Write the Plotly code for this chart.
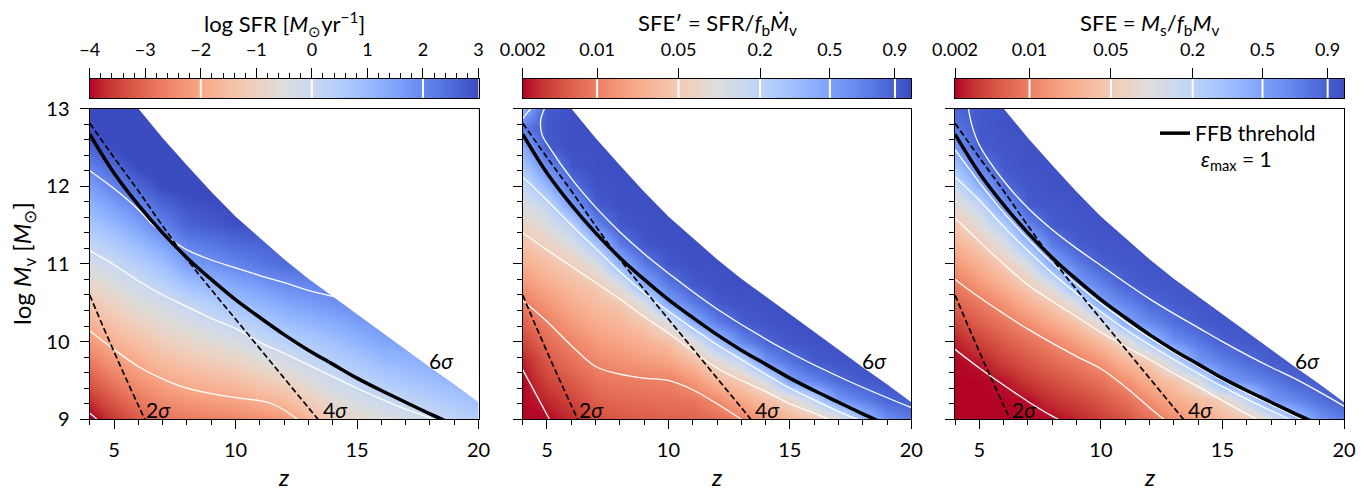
import numpy as np
import plotly.graph_objects as go

# page offset of the plot div (browser default body margin)
OFF = 8
W, H = 1372 - OFF, 493 - OFF
FONT = "Lato"

# ---------------- data ----------------
# panel 1: log SFR, one column per z node, rows = logM from 9 to 13 (step 0.5)
z_nodes_sfr = [4, 5, 6, 7, 8, 10, 12, 14, 16, 18, 20]
logm_nodes_sfr = [9.0, 9.5, 10.0, 10.5, 11.0, 11.5, 12.0, 12.5, 13.0]
log_sfr_cols = [
    [-4.15, -3.2, -2.27, -1.3, -0.33, 0.65, 1.6, 2.6, 3.5],
    [-3.6, -2.75, -1.8, -0.9, 0.02, 1.06, 2.1, 3.0, 3.8],
    [-3.2, -2.35, -1.45, -0.5, 0.45, 1.55, 2.6, 3.4, 3.9],
    [-2.9, -2.04, -1.1, -0.2, 0.9, 2.1, 3.0, 3.5, 3.8],
    [-2.75, -1.8, -0.85, 0.14, 1.6, 2.6, 3.1, 3.4, 3.6],
    [-2.6, -1.5, -0.38, 0.85, 2.1, 2.9, 3.2, 3.4, 3.5],
    [-2.3, -0.95, 0.33, 1.45, 2.5, 2.9, 3.1, 3.3, 3.4],
    [-1.1, -0.1, 0.85, 1.85, 2.5, 2.8, 3.0, 3.2, 3.3],
    [-0.55, 0.5, 1.45, 2.2, 2.6, 2.9, 3.0, 3.2, 3.3],
    [-0.05, 0.9, 1.7, 2.3, 2.7, 2.9, 3.0, 3.2, 3.3],
    [0.45, 1.3, 2.0, 2.5, 2.8, 3.0, 3.1, 3.2, 3.3],
]

# panels 2 and 3: SFE values, one column per z node, rows = logM 9..13 (step 0.25)
z_nodes_sfe = [4, 5, 6, 7, 8, 9, 10, 11, 12, 13, 14, 15, 16, 17, 18, 19, 20]
logm_nodes_sfe = [9.0, 9.25, 9.5, 9.75, 10.0, 10.25, 10.5, 10.75, 11.0,
                  11.25, 11.5, 11.75, 12.0, 12.25, 12.5, 12.75, 13.0]
sfe_inst_cols = [
    [0.00063, 0.00098, 0.00155, 0.0024, 0.0038, 0.006, 0.0095, 0.015, 0.024, 0.038, 0.06, 0.098, 0.158, 0.26, 0.41, 0.7, 0.4],
    [0.0018, 0.0026, 0.0036, 0.005, 0.0071, 0.0098, 0.015, 0.023, 0.036, 0.058, 0.1, 0.17, 0.35, 0.62, 0.91, 0.94, 0.91],
    [0.0027, 0.0038, 0.0054, 0.0076, 0.0108, 0.016, 0.024, 0.035, 0.054, 0.105, 0.2, 0.52, 0.77, 0.94, 0.97, 0.98, 0.97],
    [0.0042, 0.0058, 0.008, 0.011, 0.016, 0.023, 0.034, 0.049, 0.107, 0.27, 0.62, 0.91, 0.96, 0.98, 0.98, 0.98, 0.98],
    [0.0051, 0.0068, 0.0091, 0.0133, 0.02, 0.03, 0.046, 0.11, 0.39, 0.7, 0.93, 0.97, 0.98, 0.98, 0.98, 0.98, 0.98],
    [0.0054, 0.0072, 0.0097, 0.0157, 0.026, 0.044, 0.11, 0.47, 0.73, 0.94, 0.97, 0.98, 0.98, 0.98, 0.98, 0.98, 0.98],
    [0.006, 0.0077, 0.01, 0.019, 0.037, 0.1, 0.5, 0.74, 0.94, 0.97, 0.98, 0.98, 0.98, 0.98, 0.98, 0.98, 0.98],
    [0.0059, 0.0083, 0.0147, 0.033, 0.089, 0.42, 0.72, 0.93, 0.97, 0.98, 0.98, 0.98, 0.98, 0.98, 0.98, 0.98, 0.98],
    [0.0072, 0.012, 0.029, 0.076, 0.3, 0.69, 0.93, 0.97, 0.98, 0.98, 0.98, 0.98, 0.98, 0.98, 0.98, 0.98, 0.98],
    [0.01, 0.022, 0.05, 0.18, 0.64, 0.91, 0.96, 0.98, 0.98, 0.98, 0.98, 0.98, 0.98, 0.98, 0.98, 0.98, 0.98],
    [0.016, 0.035, 0.12, 0.57, 0.86, 0.95, 0.97, 0.98, 0.98, 0.98, 0.98, 0.98, 0.98, 0.98, 0.98, 0.98, 0.98],
    [0.026, 0.07, 0.51, 0.76, 0.94, 0.97, 0.98, 0.98, 0.98, 0.98, 0.98, 0.98, 0.98, 0.98, 0.98, 0.98, 0.98],
    [0.039, 0.2, 0.66, 0.92, 0.96, 0.98, 0.98, 0.98, 0.98, 0.98, 0.98, 0.98, 0.98, 0.98, 0.98, 0.98, 0.98],
    [0.08, 0.56, 0.83, 0.95, 0.97, 0.98, 0.98, 0.98, 0.98, 0.98, 0.98, 0.98, 0.98, 0.98, 0.98, 0.98, 0.98],
    [0.32, 0.7, 0.92, 0.96, 0.97, 0.98, 0.98, 0.98, 0.98, 0.98, 0.98, 0.98, 0.98, 0.98, 0.98, 0.98, 0.98],
    [0.59, 0.86, 0.94, 0.97, 0.98, 0.98, 0.98, 0.98, 0.98, 0.98, 0.98, 0.98, 0.98, 0.98, 0.98, 0.98, 0.98],
    [0.72, 0.91, 0.95, 0.97, 0.98, 0.98, 0.98, 0.98, 0.98, 0.98, 0.98, 0.98, 0.98, 0.98, 0.98, 0.98, 0.98],
]
sfe_cum_cols = [
    [0.0004, 0.00062, 0.00097, 0.0015, 0.0024, 0.0037, 0.0059, 0.0091, 0.015, 0.025, 0.042, 0.076, 0.145, 0.28, 0.53, 0.74, 0.85],
    [0.00062, 0.00096, 0.0015, 0.0023, 0.0036, 0.0056, 0.0089, 0.015, 0.026, 0.046, 0.087, 0.165, 0.41, 0.67, 0.91, 0.93, 0.92],
    [0.00093, 0.0014, 0.0022, 0.0035, 0.0054, 0.0083, 0.014, 0.027, 0.05, 0.103, 0.22, 0.57, 0.82, 0.93, 0.95, 0.96, 0.96],
    [0.0013, 0.0021, 0.0032, 0.0049, 0.0075, 0.013, 0.026, 0.053, 0.117, 0.33, 0.65, 0.91, 0.94, 0.96, 0.96, 0.96, 0.96],
    [0.0019, 0.0029, 0.0044, 0.0068, 0.0106, 0.022, 0.047, 0.12, 0.47, 0.7, 0.91, 0.94, 0.96, 0.96, 0.96, 0.96, 0.96],
    [0.0025, 0.0038, 0.0059, 0.009, 0.018, 0.04, 0.115, 0.51, 0.7, 0.91, 0.94, 0.96, 0.96, 0.96, 0.96, 0.96, 0.96],
    [0.0033, 0.005, 0.0077, 0.014, 0.033, 0.1, 0.51, 0.68, 0.9, 0.94, 0.96, 0.96, 0.96, 0.96, 0.96, 0.96, 0.96],
    [0.0046, 0.0073, 0.013, 0.028, 0.073, 0.46, 0.66, 0.89, 0.93, 0.95, 0.96, 0.96, 0.96, 0.96, 0.96, 0.96, 0.96],
    [0.0073, 0.013, 0.025, 0.048, 0.3, 0.63, 0.85, 0.93, 0.95, 0.96, 0.96, 0.96, 0.96, 0.96, 0.96, 0.96, 0.96],
    [0.0126, 0.023, 0.041, 0.17, 0.59, 0.79, 0.91, 0.94, 0.96, 0.96, 0.96, 0.96, 0.96, 0.96, 0.96, 0.96, 0.96],
    [0.019, 0.034, 0.095, 0.54, 0.73, 0.91, 0.94, 0.96, 0.96, 0.96, 0.96, 0.96, 0.96, 0.96, 0.96, 0.96, 0.96],
    [0.029, 0.054, 0.5, 0.68, 0.9, 0.94, 0.96, 0.96, 0.96, 0.96, 0.96, 0.96, 0.96, 0.96, 0.96, 0.96, 0.96],
    [0.043, 0.19, 0.61, 0.81, 0.92, 0.95, 0.96, 0.96, 0.96, 0.96, 0.96, 0.96, 0.96, 0.96, 0.96, 0.96, 0.96],
    [0.097, 0.54, 0.73, 0.91, 0.94, 0.96, 0.96, 0.96, 0.96, 0.96, 0.96, 0.96, 0.96, 0.96, 0.96, 0.96, 0.96],
    [0.3, 0.65, 0.87, 0.93, 0.95, 0.96, 0.96, 0.96, 0.96, 0.96, 0.96, 0.96, 0.96, 0.96, 0.96, 0.96, 0.96],
    [0.57, 0.79, 0.92, 0.94, 0.95, 0.96, 0.96, 0.96, 0.96, 0.96, 0.96, 0.96, 0.96, 0.96, 0.96, 0.96, 0.96],
    [0.7, 0.91, 0.94, 0.95, 0.96, 0.96, 0.96, 0.96, 0.96, 0.96, 0.96, 0.96, 0.96, 0.96, 0.96, 0.96, 0.96],
]

# white contour lines: level -> (z points, logM points)
sfr_contours = {
    -4: ([4.0, 4.3], [9.08, 9.0]),
    -2: ([4, 5, 6, 7, 8, 9, 10, 11, 11.5, 12, 12.55],
         [10.14, 9.9, 9.68, 9.52, 9.4, 9.33, 9.28, 9.24, 9.2, 9.12, 9.0]),
    0: ([4, 5, 6, 7, 8, 9, 10, 11, 12, 13, 14, 15, 16, 17, 18, 18.1],
        [11.17, 10.99, 10.78, 10.6, 10.45, 10.3, 10.17, 9.99, 9.85, 9.7, 9.55, 9.4, 9.26, 9.13, 9.02, 9.0]),
    2: ([4, 5, 6, 6.6, 7.4, 8, 9, 10, 11, 12, 13, 14.2],
        [12.2, 11.97, 11.7, 11.5, 11.3, 11.18, 11.05, 10.95, 10.85, 10.76, 10.66, 10.57]),
}
inst_contours = {
    0.002: ([4.0, 5.1], [9.64, 9.0]),
    0.01: ([4, 5, 6, 7, 8, 9, 10, 11, 12, 13],
           [10.53, 10.26, 9.95, 9.68, 9.58, 9.53, 9.5, 9.38, 9.2, 9.0]),
    0.05: ([4, 5, 6, 7, 8, 9, 10, 11, 12, 13, 14, 15, 16, 16.6],
           [11.4, 11.18, 10.97, 10.76, 10.55, 10.32, 10.11, 9.88, 9.66, 9.5, 9.36, 9.2, 9.08, 9.0]),
    0.2: ([4, 5, 6, 7, 8, 9, 10, 11, 12, 13, 14, 15, 16, 17, 17.8],
          [12.12, 11.82, 11.5, 11.2, 10.9, 10.63, 10.39, 10.17, 9.96, 9.77, 9.58, 9.4, 9.25, 9.1, 9.0]),
    0.5: ([4.0, 4.2, 4.35], [12.87, 12.95, 13.0]),
    0.9: ([4.9, 4.74, 4.8, 5.1, 6, 7, 8, 9, 10, 12, 15, 17.5, 20],
          [13.0, 12.85, 12.66, 12.5, 12.1, 11.73, 11.41, 11.13, 10.88, 10.42, 9.86, 9.48, 9.15]),
}
cum_contours = {
    0.002: ([4, 5, 6, 7, 8, 8.25], [9.9, 9.66, 9.44, 9.23, 9.04, 9.0]),
    0.01: ([4, 5, 6, 7, 8, 9, 10, 11, 12, 12.6],
           [10.8, 10.57, 10.36, 10.16, 9.98, 9.81, 9.65, 9.42, 9.15, 9.0]),
    0.05: ([4, 5, 6, 7, 8, 9, 10, 11, 12, 13, 14, 15, 16, 16.4],
           [11.59, 11.29, 11.0, 10.73, 10.52, 10.32, 10.12, 9.94, 9.77, 9.59, 9.42, 9.24, 9.07, 9.0]),
    0.2: ([4, 5, 6, 7, 8, 9, 10, 11, 12, 13, 14, 15, 16, 17, 18, 18.2],
          [12.12, 11.82, 11.48, 11.17, 10.88, 10.62, 10.38, 10.16, 9.96, 9.77, 9.59, 9.42, 9.26, 9.11, 8.97, 8.95]),
    0.5: ([4, 5, 6, 7, 8, 9, 10, 11, 12, 13, 14, 15, 16, 17, 18, 19],
          [12.47, 12.05, 11.66, 11.32, 11.01, 10.74, 10.49, 10.26, 10.05, 9.86, 9.68, 9.5, 9.34, 9.19, 9.04, 8.9]),
    0.9: ([4.55, 4.69, 5.0, 6, 7, 8, 9, 10, 11, 12, 13, 14, 15, 16, 17, 18, 19, 20],
          [13.0, 12.79, 12.53, 12.07, 11.72, 11.44, 11.2, 10.98, 10.76, 10.55, 10.36, 10.18, 10.0, 9.83, 9.67, 9.52, 9.35, 9.17]),
}

# FFB threshold and peak-height lines
ffb_z = [4, 5, 6, 7, 8, 9, 10, 11, 12, 13, 14, 15, 16, 17, 18, 19]
ffb_m = [12.67, 12.17, 11.76, 11.40, 11.08, 10.80, 10.54, 10.31, 10.09, 9.89, 9.71, 9.53, 9.37, 9.22, 9.07, 8.93]
sig2_z = [4, 4.5, 5, 5.5, 6, 6.3]
sig2_m = [10.6, 10.23, 9.87, 9.52, 9.18, 8.98]
sig4_z = [4, 5, 6, 7, 8, 9, 10, 11, 12, 13, 13.5]
sig4_m = [12.81, 12.37, 11.94, 11.49, 11.06, 10.67, 10.29, 9.91, 9.53, 9.15, 8.96]
sig6_z = [6, 7, 8, 9, 10, 11, 12, 13, 14, 15, 16, 17, 18, 19, 20]
sig6_m = [13.0, 12.62, 12.27, 11.93, 11.61, 11.33, 11.06, 10.81, 10.58, 10.35, 10.12, 9.9, 9.67, 9.45, 9.22]

# colour-bar ticks
sfr_levels = [-2, 0, 2]
sfe_tick_vals = [0.002, 0.01, 0.05, 0.2, 0.5, 0.9]
sfe_tick_text = ["0.002", "0.01", "0.05", "0.2", "0.5", "0.9"]
sfe_levels = [0.01, 0.05, 0.2, 0.5, 0.9]
# position of the SFE ticks along the colour bar (fraction of its length)
sfe_scale_vals = [0.002, 0.01, 0.05, 0.2, 0.5, 0.9, 1.0]
sfe_scale_pos = [0.0, 0.1915, 0.401, 0.611, 0.7905, 0.958, 1.0]

z_range = [4, 20]
m_range = [9, 13]

# ---------------- styling ----------------
coolwarm = [(59, 76, 192), (68, 90, 204), (77, 104, 215), (87, 117, 225), (98, 130, 234),
            (108, 142, 241), (119, 154, 247), (130, 165, 251), (141, 176, 254), (152, 185, 255),
            (163, 194, 255), (174, 201, 253), (184, 208, 249), (194, 213, 244), (204, 217, 238),
            (213, 219, 230), (221, 221, 221), (229, 216, 209), (236, 211, 197), (241, 204, 184),
            (245, 196, 172), (247, 187, 159), (247, 177, 147), (247, 167, 134), (244, 154, 123),
            (241, 141, 111), (236, 127, 99), (229, 112, 89), (222, 96, 77), (213, 80, 66),
            (203, 62, 56), (192, 40, 47), (180, 4, 38)]
cw_r = coolwarm[::-1]
CSCALE = [[i / (len(cw_r) - 1), "rgb(%d,%d,%d)" % c] for i, c in enumerate(cw_r)]


def sfe_to_pos(v):
    v = np.clip(np.asarray(v, dtype=float), 1e-6, None)
    return np.interp(np.log10(v), np.log10(sfe_scale_vals), sfe_scale_pos)


def px_x(p):
    return (p - OFF) / W


def px_y(p):
    return 1 - (p - OFF) / H


panel_px = [(89.7, 478.5), (522.7, 911.3), (955.0, 1344.0)]
plot_dom_y = [px_y(419.3), px_y(108.5)]
cbar_dom_y = [px_y(98.3), px_y(79.0)]

fig = go.Figure()

panels = [
    dict(x=z_nodes_sfr, y=logm_nodes_sfr, z=np.array(log_sfr_cols).T, zmin=-4, zmax=3, cont=sfr_contours),
    dict(x=z_nodes_sfe, y=logm_nodes_sfe, z=sfe_to_pos(np.array(sfe_inst_cols).T), zmin=0, zmax=1, cont=inst_contours),
    dict(x=z_nodes_sfe, y=logm_nodes_sfe, z=sfe_to_pos(np.array(sfe_cum_cols).T), zmin=0, zmax=1, cont=cum_contours),
]

for i, p in enumerate(panels):
    xa = "x" if i == 0 else "x%d" % (i + 1)
    ya = "y" if i == 0 else "y%d" % (i + 1)
    fig.add_trace(go.Heatmap(x=p["x"], y=p["y"], z=p["z"], zmin=p["zmin"], zmax=p["zmax"],
                             colorscale=CSCALE, zsmooth="best", showscale=False,
                             hoverinfo="skip", xaxis=xa, yaxis=ya))
    for lvl, (cz, cm) in p["cont"].items():
        fig.add_trace(go.Scatter(x=cz, y=cm, mode="lines", line=dict(color="white", width=1.3, shape="spline"),
                                 showlegend=False, hoverinfo="skip", xaxis=xa, yaxis=ya))
    # white mask above the 6 sigma limit
    mx = sig6_z + [z_range[1] + 1, z_range[1] + 1, sig6_z[0]]
    my = sig6_m + [sig6_m[-1], m_range[1] + 1, m_range[1] + 1]
    fig.add_trace(go.Scatter(x=mx, y=my, mode="lines", fill="toself", fillcolor="white",
                             line=dict(width=0, color="white"), showlegend=False, hoverinfo="skip",
                             xaxis=xa, yaxis=ya))
    for sz, sm in [(sig2_z, sig2_m), (sig4_z, sig4_m)]:
        fig.add_trace(go.Scatter(x=sz, y=sm, mode="lines", line=dict(color="black", width=1.7, dash="6px,3px", shape="spline"),
                                 showlegend=False, hoverinfo="skip", xaxis=xa, yaxis=ya))
    fig.add_trace(go.Scatter(x=ffb_z, y=ffb_m, mode="lines", line=dict(color="black", width=3.5, shape="spline"),
                             name="FFB threhold", showlegend=(i == 2), hoverinfo="skip", xaxis=xa, yaxis=ya))

# colour bars
for i in range(3):
    xa = "x%d" % (i + 4)
    ya = "y%d" % (i + 4)
    if i == 0:
        gx = np.linspace(-4, 3, 400)
        zmin, zmax = -4, 3
        lv = sfr_levels
    else:
        gx = np.linspace(0, 1, 400)
        zmin, zmax = 0, 1
        lv = list(sfe_to_pos(sfe_levels))
    fig.add_trace(go.Heatmap(x=gx, y=[0, 1], z=[gx, gx], zmin=zmin, zmax=zmax, colorscale=CSCALE,
                             zsmooth="best", showscale=False, hoverinfo="skip", xaxis=xa, yaxis=ya))
    lx, ly = [], []
    for l in lv:
        lx += [l, l, None]
        ly += [0, 1, None]
    fig.add_trace(go.Scatter(x=lx, y=ly, mode="lines", line=dict(color="white", width=2),
                             showlegend=False, hoverinfo="skip", xaxis=xa, yaxis=ya))

layout = dict(width=W, height=H, margin=dict(l=0, r=0, t=0, b=0, autoexpand=False),
              plot_bgcolor="white", paper_bgcolor="white",
              font=dict(family=FONT, color="black", size=20))

grid_col = "rgba(128,128,128,0.35)"
for i, (a, b) in enumerate(panel_px):
    sx = "" if i == 0 else str(i + 1)
    layout["xaxis" + sx] = dict(
        domain=[px_x(a), px_x(b)], anchor="y" + sx, range=z_range, automargin=False,
        tickmode="linear", tick0=5, dtick=5, ticks="outside", ticklen=9, tickwidth=1.3, tickcolor="black",
        showline=True, linecolor="black", linewidth=1.3, mirror=True,
        showgrid=True, gridcolor=grid_col, griddash="7px,4px", gridwidth=1, zeroline=False,
        layer="above traces", tickfont=dict(size=20), ticklabelstandoff=4,
        minor=dict(tick0=4, dtick=1, ticks="outside", ticklen=5, tickwidth=1, tickcolor="black", showgrid=False))
    layout["yaxis" + sx] = dict(
        domain=plot_dom_y, anchor="x" + sx, range=m_range, automargin=False,
        tickmode="linear", tick0=9, dtick=1, ticks="outside", ticklen=9, tickwidth=1.3, tickcolor="black",
        showline=True, linecolor="black", linewidth=1.3, mirror=True,
        showgrid=True, gridcolor=grid_col, griddash="7px,4px", gridwidth=1, zeroline=False,
        layer="above traces", tickfont=dict(size=20), showticklabels=(i == 0), ticklabelstandoff=6,
        minor=dict(tick0=9, dtick=0.2, ticks="outside", ticklen=5, tickwidth=1, tickcolor="black", showgrid=False))
    cx = str(i + 4)
    cbx = dict(domain=[px_x(a), px_x(b)], anchor="y" + cx, side="top", automargin=False,
               ticks="outside", ticklen=10, tickwidth=1.3, tickcolor="black",
               showline=True, linecolor="black", linewidth=1.2, mirror=True,
               showgrid=False, zeroline=False, layer="above traces",
               tickfont=dict(size=18), ticklabelstandoff=5)
    if i == 0:
        cbx.update(range=[-4, 3], tickmode="linear", tick0=-4, dtick=1,
                   minor=dict(tick0=-4, dtick=0.2, ticks="outside", ticklen=5, tickwidth=1,
                              tickcolor="black", showgrid=False))
    else:
        cbx.update(range=[0, 1], tickmode="array", tickvals=list(sfe_to_pos(sfe_tick_vals)),
                   ticktext=sfe_tick_text)
    layout["xaxis" + cx] = cbx
    layout["yaxis" + cx] = dict(domain=cbar_dom_y, anchor="x" + cx, range=[0, 1], automargin=False,
                                showticklabels=False, ticks="", showline=True, linecolor="black",
                                linewidth=1.2, mirror=True, showgrid=False, zeroline=False,
                                layer="above traces")

cb_titles = ["log SFR [<i>M</i><sub>⊙</sub>yr<sup>−1</sup>]",
             "SFE′ = SFR/<i>f</i><sub>b</sub><i>Ṁ</i><sub>v</sub>",
             "SFE = <i>M</i><sub>s</sub>/<i>f</i><sub>b</sub><i>M</i><sub>v</sub>"]
ann = []
for i, (a, b) in enumerate(panel_px):
    ann.append(dict(x=px_x((a + b) / 2), y=px_y(24), xref="paper", yref="paper", text=cb_titles[i],
                    showarrow=False, xanchor="center", yanchor="middle", font=dict(size=22)))
    ann.append(dict(x=px_x((a + b) / 2), y=px_y(476), xref="paper", yref="paper", text="<i>z</i>",
                    showarrow=False, xanchor="center", yanchor="middle", font=dict(size=24)))
    sx = "" if i == 0 else str(i + 1)
    for txt, zx, my in [("2<i>σ</i>", 6.25, 9.13), ("4<i>σ</i>", 13.5, 9.13), ("6<i>σ</i>", 17.9, 9.76)]:
        ann.append(dict(x=zx, y=my, xref="x" + sx, yref="y" + sx, text=txt, showarrow=False,
                        xanchor="left", yanchor="middle", font=dict(size=21)))
ann.append(dict(x=px_x(23), y=px_y(264), xref="paper", yref="paper",
                text="log <i>M</i><sub>v</sub> [<i>M</i><sub>⊙</sub>]", textangle=-90,
                showarrow=False, xanchor="center", yanchor="middle", font=dict(size=24)))
ann.append(dict(x=px_x(1199), y=px_y(160), xref="paper", yref="paper",
                text="<i>ε</i><sub>max</sub> = 1", showarrow=False, xanchor="left", yanchor="middle",
                font=dict(size=21)))
layout["annotations"] = ann
layout["showlegend"] = True
layout["legend"] = dict(x=px_x(1155), y=px_y(113), xref="paper", yref="paper", xanchor="left", yanchor="top",
                        bgcolor="rgba(0,0,0,0)", borderwidth=0, font=dict(size=21), tracegroupgap=0)

fig.update_layout(**layout)
fig.write_html("out.html")
